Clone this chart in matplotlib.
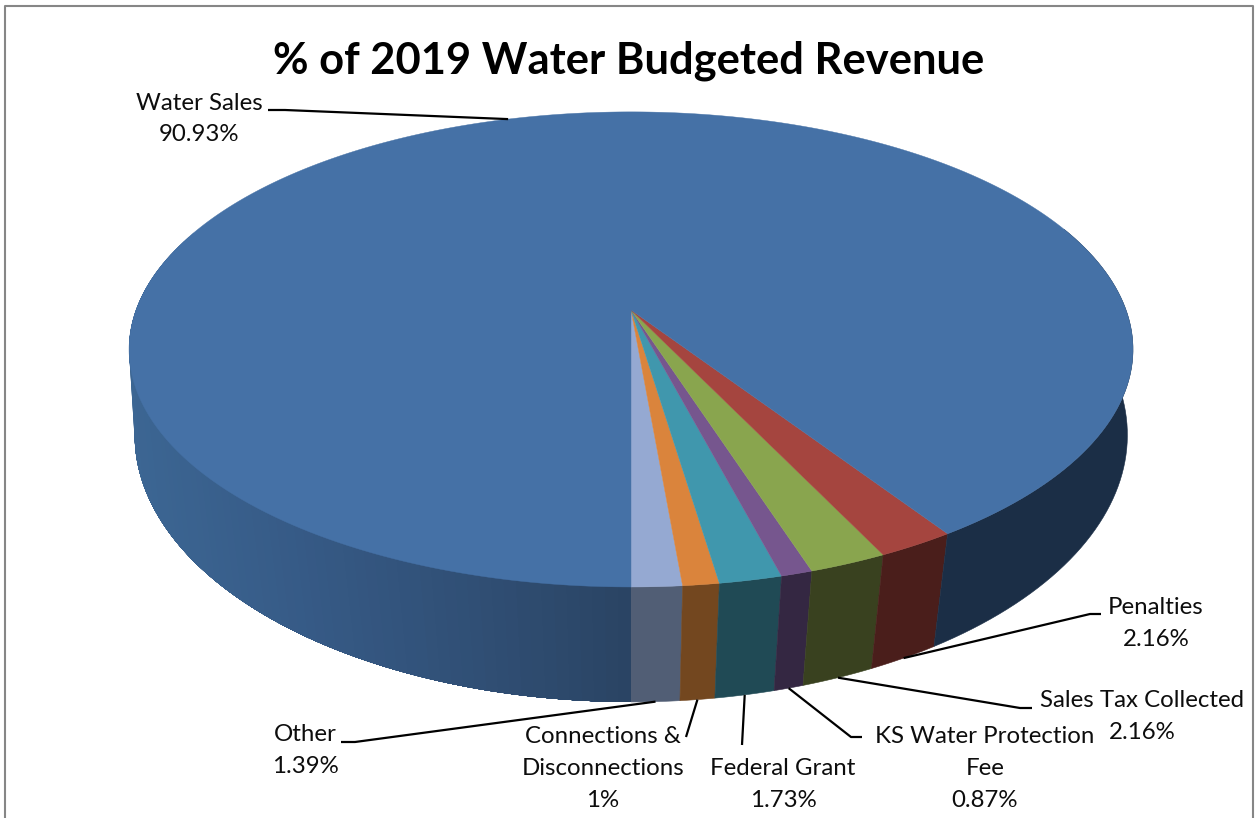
"""Budget share of 2019 water revenue as a perspective 3-D pie."""

import matplotlib

matplotlib.use("Agg")
import matplotlib.pyplot as plt
import numpy as np
from matplotlib.colors import to_rgb
from matplotlib.patches import Polygon

TITLE = "% of 2019 Water Budgeted Revenue"

# Slices run from the front of the pie, counter-clockwise seen from above.
names = [
    "Other",
    "Connections &\nDisconnections",
    "Federal Grant",
    "KS Water Protection\nFee",
    "Sales Tax Collected",
    "Penalties",
    "Water Sales",
]
shares = [1.39, 1, 1.73, 0.87, 2.16, 2.16, 90.93]

top_colors = ["#95a9d2", "#da843c", "#4097ad", "#76568e", "#89a54e", "#a5453f", "#4571a6"]
wall_colors = ["#515e75", "#73471f", "#204a55", "#342742", "#39411f", "#4a1e1b", "#1b2e46"]

WIDTH, HEIGHT = 1256, 818
FONT = "Lato"
LABEL_SIZE = 17.3
LINE_SPACING = 1.64

# label centre, then the polyline from the text towards the rim
label_layout = [
    dict(xy=(305, 750.5), elbow=[(341, 742), (355, 742)], rim="bottom"),
    dict(xy=(603, 768.5), elbow=[(686, 737)], rim="bottom"),
    dict(xy=(783, 784.5), elbow=[(742, 745)], rim="bottom"),
    dict(xy=(985, 768.5), elbow=[(862, 737), (851, 737)], rim="bottom"),
    dict(xy=(1142, 716.5), elbow=[(1032, 708), (1020, 708)], rim="bottom"),
    dict(xy=(1156, 623.5), elbow=[(1101, 614), (1090, 614)], rim="bottom"),
    dict(xy=(199, 119), elbow=[(268, 110), (285, 110)], rim="top"),
]

# water wall colour by horizontal position, lighter towards the left
fade_x = [128, 300, 500, 631]
fade_colors = ["#3c6693", "#365a86", "#2f4d72", "#2a4463"]


def rim_point(theta, apex_y, half_w, half_h, persp):
    """Project an angle on the pie's circle to pixel coordinates."""
    u, v = np.sin(theta), -np.cos(theta)
    k = 1 + persp * v
    return 631 + half_w * u / k, apex_y - half_h * v / k


def top_rim(theta):
    return rim_point(theta, 310, 495, 231, 0.166)


def bottom_rim(theta):
    return rim_point(theta, 401.6, 492.5, 262.8, 0.125)


def wall_polygon(start, end, count=60):
    thetas = np.linspace(start, end, count)
    top_x, top_y = top_rim(thetas)
    low_x, low_y = bottom_rim(thetas[::-1])
    return list(zip(top_x, top_y)) + list(zip(low_x, low_y))


fig = plt.figure(figsize=(WIDTH / 100, HEIGHT / 100), dpi=100, facecolor="white")
ax = fig.add_axes([0, 0, 1, 1])
ax.set_xlim(0, WIDTH)
ax.set_ylim(HEIGHT, 0)
ax.axis("off")

fractions = np.array(shares) / sum(shares)
edges = np.concatenate([[0], np.cumsum(fractions)]) * 2 * np.pi

# side wall, only the part that faces the viewer; the hidden back is skipped
RIGHT_END, LEFT_START = 1.95, 4.35
for i, color in enumerate(wall_colors):
    end = edges[i + 1]
    if i == len(wall_colors) - 1:
        end = RIGHT_END
    ax.add_patch(Polygon(wall_polygon(edges[i], end), facecolor=color, edgecolor=color, linewidth=0.4, zorder=1))

# the left part of the water wall is a banded gradient, each band overlapping the next
fade_rgb = np.array([to_rgb(c) for c in fade_colors])
bands = np.linspace(LEFT_START, edges[-1], 90)
for a, b in zip(bands[:-1], bands[1:]):
    x = top_rim((a + b) / 2)[0]
    shade = [np.interp(x, fade_x, fade_rgb[:, k]) for k in range(3)]
    ax.add_patch(Polygon(wall_polygon(a, edges[-1], 30), facecolor=shade, edgecolor="none", zorder=1))

# top face
for i, color in enumerate(top_colors):
    thetas = np.linspace(edges[i], edges[i + 1], max(8, int((edges[i + 1] - edges[i]) * 120)))
    xs, ys = top_rim(thetas)
    points = [(631, 310)] + list(zip(xs, ys))
    ax.add_patch(Polygon(points, facecolor=color, edgecolor=color, linewidth=0.3, zorder=2))

# labels and leader lines
for i, layout in enumerate(label_layout):
    share = f"{shares[i]:g}%"
    ax.text(
        layout["xy"][0],
        layout["xy"][1],
        f"{names[i]}\n{share}",
        ha="center",
        va="center",
        multialignment="center",
        fontsize=LABEL_SIZE,
        fontfamily=FONT,
        color="#0d0d0d",
        linespacing=LINE_SPACING,
        zorder=4,
    )
    mid = (edges[i] + edges[i + 1]) / 2
    anchor = bottom_rim(mid) if layout["rim"] == "bottom" else top_rim(mid)
    path = layout["elbow"] + [anchor]
    ax.plot(
        [p[0] for p in path],
        [p[1] for p in path],
        color="black",
        linewidth=1.6,
        solid_capstyle="butt",
        zorder=3,
    )

ax.text(
    629,
    61,
    TITLE,
    ha="center",
    va="center",
    fontsize=31.3,
    fontweight="bold",
    fontfamily=FONT,
    color="black",
    zorder=4,
)

# chart frame, open at the bottom
ax.plot([5, 5, 1252.5, 1252.5], [HEIGHT, 6, 6, HEIGHT], color="#868686", linewidth=1.5, zorder=5)

fig.savefig("out.png", dpi=100)
